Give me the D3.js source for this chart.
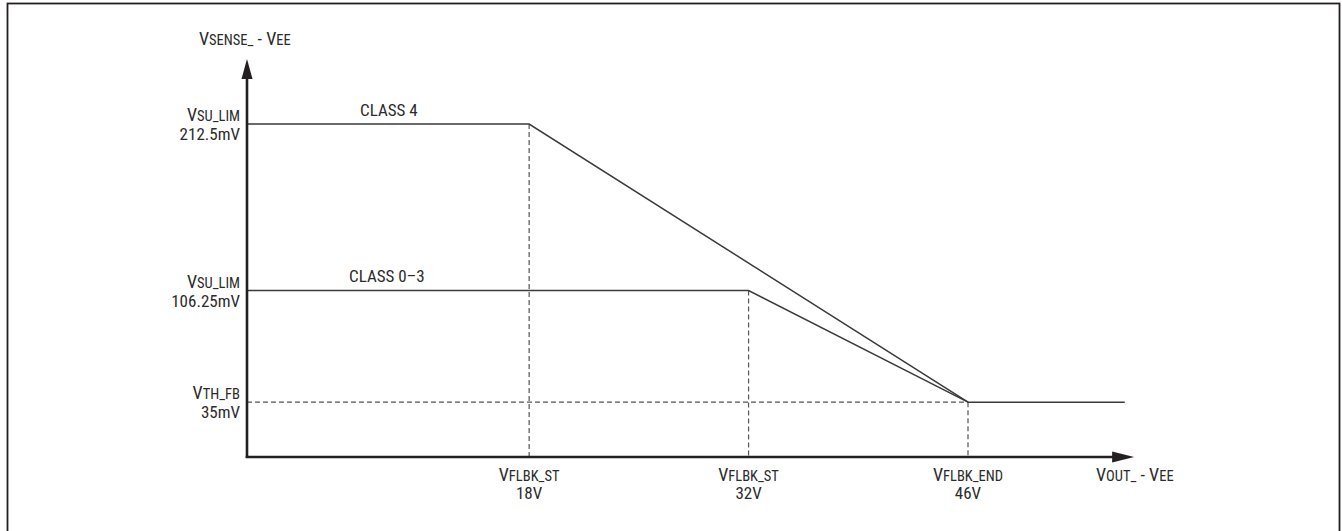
<!DOCTYPE html>
<html>
<head>
<meta charset="utf-8">
<script src="https://cdn.jsdelivr.net/npm/d3@7"></script>
<style>
  body { margin: 0; background: #fff; }
  svg text { font-family: "Liberation Sans Narrow", "Arial Narrow", "Roboto Condensed", sans-serif; fill: #2b2b2b; }
</style>
</head>
<body>
<svg id="chart"></svg>
<script>
// values (V and mV)
var class4 = [[0, 212.5], [18, 212.5], [46, 35]];
var class03 = [[0, 106.25], [32, 106.25], [46, 35]];
var thFb = [[46, 35], [56, 35]];
var xTicks = [18, 32, 46];
var xTickSub = ["FLBK_ST", "FLBK_ST", "FLBK_END"];
var yTicks = [212.5, 106.25, 35];
var yTickSub = ["SU_LIM", "SU_LIM", "TH_FB"];
var yTickVal = ["212.5mV", "106.25mV", "35mV"];
var seriesNames = ["CLASS 4", "CLASS 0\u20133"];

var width = 1342, height = 531;
var svg = d3.select("#chart").attr("width", width).attr("height", height);

var xScale = d3.scaleLinear().domain([0, 46]).range([247, 968]);
var yScale = d3.scaleLinear().domain([0, 212.5]).range([457, 124]);

// frame
svg.append("rect").attr("x", 7.5).attr("y", 3.5).attr("width", 1332).attr("height", 540)
  .attr("fill", "none").attr("stroke", "#231f20").attr("stroke-width", 1.8);

var x0 = xScale(0), y0 = yScale(0);
var xEnd = xScale(56.6), yTop = yScale(254);

// dashed guides
var dash = svg.append("g").attr("stroke", "#555").attr("stroke-width", 1.2).attr("stroke-dasharray", "5,3").attr("fill", "none");
dash.append("line").attr("x1", x0).attr("x2", xScale(46)).attr("y1", yScale(35)).attr("y2", yScale(35));
dash.append("line").attr("x1", xScale(18)).attr("x2", xScale(18)).attr("y1", yScale(212.5)).attr("y2", y0);
dash.append("line").attr("x1", xScale(32)).attr("x2", xScale(32)).attr("y1", yScale(106.25)).attr("y2", y0);
dash.append("line").attr("x1", xScale(46)).attr("x2", xScale(46)).attr("y1", yScale(35)).attr("y2", y0);

// curves
var line = d3.line().x(function (d) { return xScale(d[0]); }).y(function (d) { return yScale(d[1]); });
[class4, class03, thFb].forEach(function (s) {
  svg.append("path").attr("d", line(s)).attr("fill", "none")
    .attr("stroke", "#3a3a3a").attr("stroke-width", 1.5);
});

// axes with arrows
svg.append("line").attr("x1", x0).attr("x2", x0).attr("y1", y0 + 1).attr("y2", yTop + 15)
  .attr("stroke", "#231f20").attr("stroke-width", 2.6);
svg.append("line").attr("x1", x0 - 1.3).attr("x2", xEnd - 15).attr("y1", y0).attr("y2", y0)
  .attr("stroke", "#231f20").attr("stroke-width", 2.6);
svg.append("path").attr("d", "M" + x0 + "," + yTop + "L" + (x0 - 5.5) + "," + (yTop + 20) + "L" + (x0 + 5.5) + "," + (yTop + 20) + "Z")
  .attr("fill", "#231f20");
svg.append("path").attr("d", "M" + xEnd + "," + y0 + "L" + (xEnd - 22) + "," + (y0 - 5.5) + "L" + (xEnd - 22) + "," + (y0 + 5.5) + "Z")
  .attr("fill", "#231f20");

function vLabel(g, x, y, sub, tail, anchor) {
  var t = g.append("text").attr("x", x).attr("y", y).attr("text-anchor", anchor).attr("font-size", 18);
  t.append("tspan").text("V");
  t.append("tspan").attr("font-size", 14.5).text(sub);
  if (tail) {
    t.append("tspan").text(tail[0]);
    t.append("tspan").text("V");
    t.append("tspan").attr("font-size", 14.5).text(tail[1]);
  }
  return t;
}

// axis titles
vLabel(svg, 199, 45, "SENSE_", [" - ", "EE"], "start");
vLabel(svg, 1096, 481, "OUT_", [" - ", "EE"], "start");

// y tick labels
yTicks.forEach(function (v, i) {
  vLabel(svg, 240, yScale(v) - 3, yTickSub[i], null, "end");
  svg.append("text").attr("x", 240).attr("y", yScale(v) + 16).attr("text-anchor", "end")
    .attr("font-size", 17).text(yTickVal[i]);
});

// x tick labels
xTicks.forEach(function (v, i) {
  vLabel(svg, xScale(v), 481, xTickSub[i], null, "middle");
  svg.append("text").attr("x", xScale(v)).attr("y", 499).attr("text-anchor", "middle")
    .attr("font-size", 17).text(v + "V");
});

// series names
svg.append("text").attr("x", 360).attr("y", yScale(212.5) - 8).attr("font-size", 17).text(seriesNames[0]);
svg.append("text").attr("x", 349).attr("y", yScale(106.25) - 9).attr("font-size", 17).text(seriesNames[1]);
</script>
</body>
</html>
